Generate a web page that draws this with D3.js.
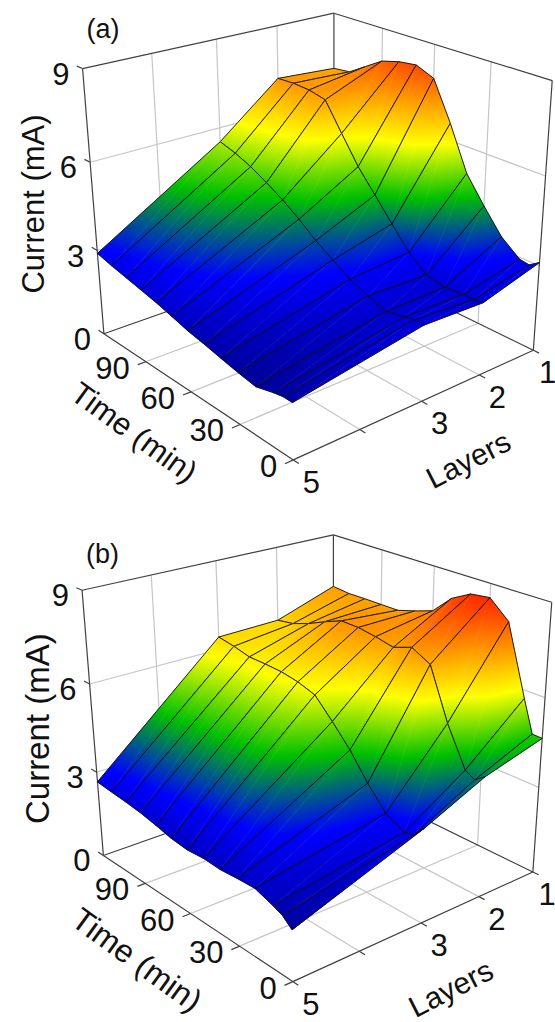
<!DOCTYPE html>
<html lang="en">
<head>
    <meta charset="UTF-8">
    <title>Current vs time and layers</title>
    <script src="https://d3js.org/d3.v7.min.js"></script>
    <style>
        body { margin: 0; background: #fff; }
        svg { display: block; }
        text { font-family: "Liberation Sans", Arial, sans-serif; fill: #111; }
    </style>
</head>
<body>
    <svg width="555" height="1022"></svg>

    <script>
        var times = [120, 110, 100, 90, 80, 70, 60, 50, 40, 30, 20, 10, 5, 0];
        var layers = [1, 2, 3, 5];
        var timeTicks = [0, 30, 60, 90];
        var layerTicks = [5, 4, 3, 2, 1];
        var currentTicks = [0, 3, 6, 9];

        // panel (a), one row per layer, same order as times
        var aLayer1 = [7.05, 7.12, 7.50, 7.88, 8.05, 8.13, 7.88, 6.58, 5.10, 4.23, 3.43, 2.93, 2.88, 3.11];
        var aLayer2 = [7.19, 7.22, 7.19, 7.06, 6.13, 5.22, 4.49, 3.75, 3.04, 2.54, 2.42, 2.48, 2.45, 2.51];
        var aLayer3 = [5.51, 5.34, 5.11, 4.80, 4.46, 4.06, 3.60, 3.22, 2.86, 2.60, 2.38, 2.53, 2.59, 2.58];
        var aLayer5 = [2.90, 2.76, 2.64, 2.52, 2.40, 2.25, 2.09, 1.98, 1.85, 1.73, 1.63, 1.80, 1.86, 1.86];

        // panel (b)
        var bLayer1 = [7.18, 7.12, 7.13, 7.13, 7.13, 7.31, 7.52, 8.13, 8.47, 8.55, 7.99, 5.73, 4.67, 4.66];
        var bLayer2 = [6.48, 6.57, 6.78, 7.05, 7.29, 7.28, 7.19, 7.06, 7.28, 6.96, 5.30, 4.03, 3.85, 4.10];
        var bLayer3 = [6.43, 6.33, 6.19, 6.18, 6.15, 6.05, 5.86, 5.24, 4.57, 3.75, 3.05, 2.73, 2.81, 3.18];
        var bLayer5 = [2.66, 2.60, 2.55, 2.48, 2.37, 2.24, 2.18, 2.23, 2.20, 2.25, 2.28, 2.08, 1.95, 1.68];

        var colorValues = [0, 1.5, 3, 4.5, 6, 9];
        var colorNames = ["#000050", "#00008c", "#0000ff", "#00c000", "#ffff00", "#ff0000"];

        var svg = d3.select("svg");

        var timeScale = d3.scaleLinear().domain([0, 120]).range([0, 1]);
        var layerScale = d3.scaleLinear().domain([5, 1]).range([0, 1]);
        var currentScale = d3.scaleLinear().domain([0, 9]).range([0, 1]);
        var color = d3.scaleLinear().domain(colorValues).range(colorNames);

        // screen corners of the 3d box, [u, v, w, x, y], fitted to a perspective matrix
        var corners = [[0, 0, 0, 294, 460], [1, 0, 0, 102.7, 333.3], [0, 1, 0, 532, 350.7], [1, 1, 0, 335.6, 252.7],
            [1, 0, 1, 83.2, 69], [0, 1, 1, 553, 80], [1, 1, 1, 332.7, 13.3]];

        function fitCamera(box) {
            var A = [], b = [];
            box.forEach(function (c) {
                A.push([c[0], c[1], c[2], 1, 0, 0, 0, 0, -c[3] * c[0], -c[3] * c[1], -c[3] * c[2]]);
                b.push(c[3]);
                A.push([0, 0, 0, 0, c[0], c[1], c[2], 1, -c[4] * c[0], -c[4] * c[1], -c[4] * c[2]]);
                b.push(c[4]);
            });
            var n = 11, M = d3.range(n).map(function (i) {
                var row = d3.range(n).map(function (j) { return d3.sum(A, function (r) { return r[i] * r[j]; }); });
                row.push(d3.sum(A, function (r, k) { return r[i] * b[k]; }));
                return row;
            });
            for (var i = 0; i < n; i++) {
                var p = i;
                for (var k = i + 1; k < n; k++) if (Math.abs(M[k][i]) > Math.abs(M[p][i])) p = k;
                var tmp = M[i]; M[i] = M[p]; M[p] = tmp;
                for (k = 0; k < n; k++) {
                    if (k == i) continue;
                    var f = M[k][i] / M[i][i];
                    for (var j = i; j <= n; j++) M[k][j] -= f * M[i][j];
                }
            }
            return M.map(function (r, i) { return r[n] / r[i]; });
        }

        var cam = fitCamera(corners);

        function project(time, layer, current) {
            var u = timeScale(time), v = layerScale(layer), w = currentScale(current);
            var d = cam[8] * u + cam[9] * v + cam[10] * w + 1;
            return [(cam[0] * u + cam[1] * v + cam[2] * w + cam[3]) / d,
                (cam[4] * u + cam[5] * v + cam[6] * w + cam[7]) / d];
        }

        var line = d3.line();
        var gradientCount = 0;

        function drawBox(g) {
            function seg(a, b, cls) {
                g.append("path").attr("d", line([project.apply(null, a), project.apply(null, b)]))
                    .attr("fill", "none")
                    .attr("stroke", cls == "grid" ? "#c6c6c6" : "#404040")
                    .attr("stroke-width", 1.2);
            }
            // wall and floor grid
            [4, 3, 2].forEach(function (l) {
                seg([120, l, 0], [120, l, 9], "grid");
                seg([0, l, 0], [120, l, 0], "grid");
            });
            [30, 60, 90].forEach(function (t) {
                seg([t, 1, 0], [t, 1, 9], "grid");
                seg([t, 5, 0], [t, 1, 0], "grid");
            });
            [3, 6].forEach(function (c) {
                seg([120, 5, c], [120, 1, c], "grid");
                seg([0, 1, c], [120, 1, c], "grid");
            });
            // box edges
            seg([120, 5, 9], [120, 1, 9]);
            seg([120, 1, 9], [0, 1, 9]);
            seg([120, 5, 0], [120, 5, 9]);
            seg([120, 1, 0], [120, 1, 9]);
            seg([0, 1, 0], [0, 1, 9]);
            seg([0, 5, 0], [120, 5, 0]);
            seg([0, 5, 0], [0, 1, 0]);
            seg([120, 5, 0], [120, 1, 0]);
            seg([0, 1, 0], [120, 1, 0]);
            // tick marks
            timeTicks.forEach(function (t) { seg([t, 5, 0], [t, 5.12, 0]); });
            layerTicks.forEach(function (l) { seg([0, l, 0], [-3, l, 0]); });
            currentTicks.forEach(function (c) { seg([120, 5, c], [124, 5, c]); });
        }

        // one triangle of the surface, filled along the direction in which current rises
        function drawTriangle(g, defs, pts, vals) {
            var x0 = pts[0][0], y0 = pts[0][1];
            var ax = pts[1][0] - x0, ay = pts[1][1] - y0, bx = pts[2][0] - x0, by = pts[2][1] - y0;
            var da = vals[1] - vals[0], db = vals[2] - vals[0];
            var det = ax * by - bx * ay;
            var fill = color(d3.mean(vals));
            if (Math.abs(det) > 1e-3) {
                var gx = (da * by - db * ay) / det, gy = (db * ax - da * bx) / det;
                var len = gx * gx + gy * gy;
                if (len > 1e-7) {
                    var id = "grad" + (gradientCount++);
                    var cMin = colorValues[0], cMax = colorValues[colorValues.length - 1];
                    var lg = defs.append("linearGradient").attr("id", id)
                        .attr("gradientUnits", "userSpaceOnUse")
                        .attr("x1", x0 + gx * (cMin - vals[0]) / len)
                        .attr("y1", y0 + gy * (cMin - vals[0]) / len)
                        .attr("x2", x0 + gx * (cMax - vals[0]) / len)
                        .attr("y2", y0 + gy * (cMax - vals[0]) / len);
                    colorValues.forEach(function (c, i) {
                        lg.append("stop").attr("offset", (c - cMin) / (cMax - cMin)).attr("stop-color", colorNames[i]);
                    });
                    fill = "url(#" + id + ")";
                }
            }
            g.append("path").attr("d", line(pts) + "Z")
                .attr("fill", fill).attr("stroke", fill).attr("stroke-width", 0.6);
        }

        function drawSurface(g, rows) {
            var defs = g.append("defs");
            // far layers and long times first, so the nearer quads cover them
            d3.range(layers.length - 1).forEach(function (j) {
                d3.range(times.length - 1).forEach(function (i) {
                    var idx = [[i, j], [i + 1, j], [i + 1, j + 1], [i, j + 1]];
                    var pts = idx.map(function (q) { return project(times[q[0]], layers[q[1]], rows[q[1]][q[0]]); });
                    var vals = idx.map(function (q) { return rows[q[1]][q[0]]; });
                    drawTriangle(g, defs, [pts[0], pts[1], pts[2]], [vals[0], vals[1], vals[2]]);
                    drawTriangle(g, defs, [pts[0], pts[2], pts[3]], [vals[0], vals[2], vals[3]]);
                    g.append("path").attr("d", line(pts) + "Z")
                        .attr("fill", "none").attr("stroke", "#101010")
                        .attr("stroke-opacity", 0.9).attr("stroke-width", 1)
                        .attr("stroke-linejoin", "round");
                });
            });
        }

        function drawLabels(g, opt) {
            function put(p, dx, dy, txt, anchor, size) {
                g.append("text").attr("x", p[0] + dx).attr("y", p[1] + dy)
                    .attr("text-anchor", anchor).attr("font-size", size || 31).text(txt);
            }
            currentTicks.forEach(function (c) { put(project(120, 5, c), -13, 16, c, "end"); });
            timeTicks.forEach(function (t) { put(project(t, 5, 0), -16, 17, t, "end"); });
            // the "1" sits right at the page edge, so it is anchored to its right side
            layers.forEach(function (l) {
                if (l == 1) put(project(0, l, 0), 23, 33, l, "end");
                else put(project(0, l, 0), 18, 33, l, "middle");
            });

            function title(t) {
                g.append("text").attr("text-anchor", "middle").attr("font-size", t[4])
                    .attr("transform", "translate(" + t[0] + "," + t[1] + ") rotate(" + t[2] + ")")
                    .text(t[3]);
            }
            title(opt.current);
            title(opt.time);
            title(opt.layers);
            put(opt.tag[0], 0, 0, opt.tag[1], "middle", 27);
        }

        function panel(dx, dy, rows, opt) {
            var g = svg.append("g").attr("transform", "translate(" + dx + "," + dy + ")");
            drawBox(g);
            drawSurface(g, rows);
            drawLabels(g, opt);
        }

        panel(0, 0, [aLayer1, aLayer2, aLayer3, aLayer5], {
            current: [44, 204, -90, "Current (mA)", 31],
            time: [128, 441, 36, "Time (min)", 31],
            layers: [473, 469, -27, "Layers", 30],
            tag: [[103, 38], "(a)"]
        });
        panel(-0.5, 521.7, [bLayer1, bLayer2, bLayer3, bLayer5], {
            current: [49, 207, -90, "Current (mA)", 33],
            time: [131, 447, 36, "Time (min)", 32],
            layers: [456, 476, -27, "Layers", 30],
            tag: [[103, 41], "(b)"]
        });
    </script>
</body>
</html>
